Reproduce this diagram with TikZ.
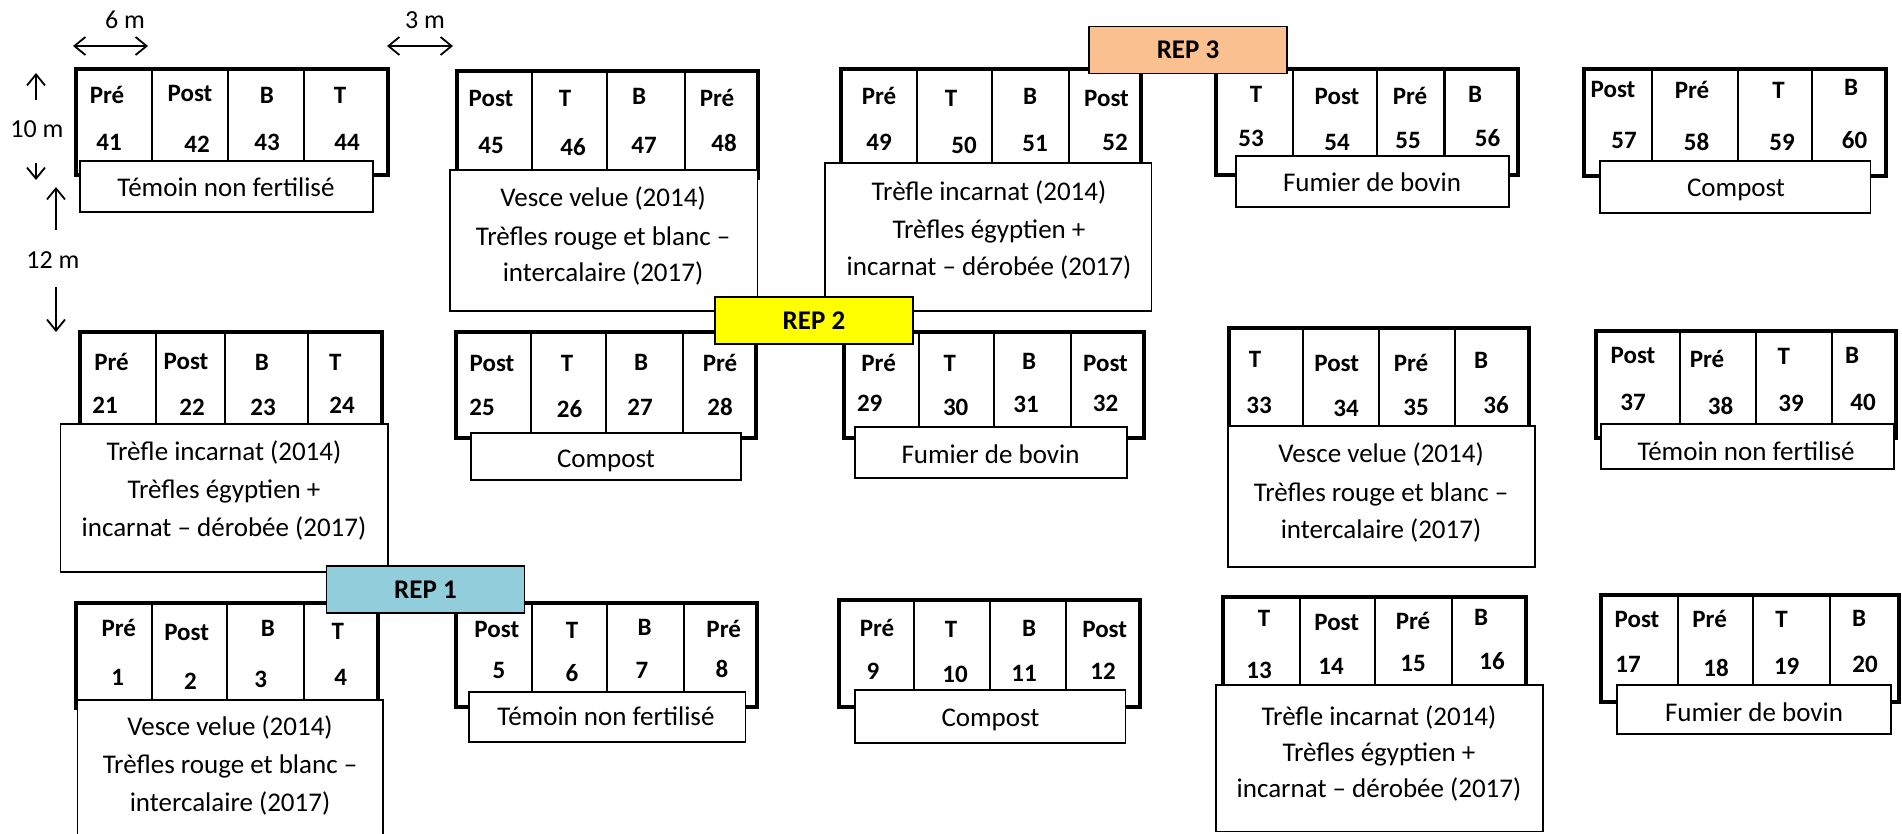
\documentclass[tikz,border=0pt]{standalone}
\usepackage{fontspec}
\setmainfont{Carlito}
\usetikzlibrary{arrows.meta}
\tikzset{
  plotbox/.style={line width=4pt, line join=miter},
  divider/.style={line width=2pt},
  labelbox/.style={draw, fill=white, line width=1.6pt},
  hd/.style={font=\fontsize{25}{30}\selectfont\bfseries, anchor=base, inner sep=0pt},
  lt/.style={font=\fontsize{27}{32}\selectfont, anchor=base, inner sep=0pt},
  dimtext/.style={font=\fontsize{26}{30}\selectfont, anchor=center, inner sep=0pt},
  rep/.style={draw, line width=1.6pt, font=\fontsize{27}{30}\selectfont\bfseries, inner sep=0pt, minimum width=198pt, minimum height=47pt},
  dimboth/.style={line width=1.8pt, {Straight Barb[length=11pt,width=18pt]}-{Straight Barb[length=11pt,width=18pt]}},
  dimone/.style={line width=1.8pt, -{Straight Barb[length=11pt,width=18pt]}},
}
\definecolor{rep1c}{HTML}{92CDDC}
\definecolor{rep2c}{HTML}{FFFF00}
\definecolor{rep3c}{HTML}{FAC090}
\newcommand\blk[7]{%
  \draw[plotbox] (#1,#2) rectangle (#3,#4);
  \draw[divider] (#5,#2) -- (#5,#4) (#6,#2) -- (#6,#4) (#7,#2) -- (#7,#4);}
\newcommand\lbox[4]{\draw[labelbox] (#1,#2) rectangle (#3,#4);}
\newcommand\hdt[4]{\node[hd] (#1) at ({#2},{#3+8}) {#4};}
\newcommand\ltt[4]{\node[lt] (#1) at ({#2},{#3+8}) {#4};}
\begin{document}
\begin{tikzpicture}[x=1pt,y=-1pt]
\useasboundingbox (0,0) rectangle (1902,833);
\clip (0,0) rectangle (1902,833);
\fill[white] (0,0) rectangle (1902,833);

% ---- plot blocks ----
\blk{76}{69}{388}{175}{152}{228}{304}
\blk{457}{71}{757.5}{178}{532}{607}{685}
\blk{841}{69}{1141}{175}{916.5}{991.6}{1068.7}
\blk{1216}{69}{1518}{175}{1293}{1376.6}{1444.7}
\draw[line width=3.5pt] (1444.7,69) -- (1444.7,160);
\blk{1584}{69}{1886}{176}{1652}{1738}{1811.7}

\blk{80}{332}{381.5}{438}{156}{225}{308}
\blk{455.6}{332}{756}{438}{531}{606}{682.5}
\blk{843.8}{332}{1144}{438}{919}{994}{1071}
\blk{1229}{328}{1529}{434}{1303}{1379}{1455}
\blk{1596}{331}{1896}{438}{1680}{1755.6}{1832}

\blk{76}{603}{378}{708}{151.7}{226.9}{304.4}
\blk{455.6}{603}{757}{707}{531.7}{607}{684.4}
\blk{838.6}{600}{1140}{707}{914}{990}{1066}
\blk{1223}{597}{1526}{703}{1299.6}{1375}{1451.6}
\blk{1601}{595}{1899}{702}{1677.7}{1753}{1829.7}

% ---- label boxes ----
\lbox{80}{161}{373}{212}
\lbox{450}{170}{757.5}{311}
\lbox{825}{163}{1151.6}{311}
\lbox{1236}{156}{1509}{207}
\lbox{1600}{161}{1870.6}{213}

\lbox{60.6}{424}{387.8}{572}
\lbox{471}{433}{740.7}{480}
\lbox{855}{427}{1127}{478}
\lbox{1228}{426}{1535}{567}
\lbox{1601}{424}{1894}{469}

\lbox{77.6}{700}{383}{850}
\lbox{468.7}{692}{745.5}{742}
\lbox{855}{690}{1125.5}{743}
\lbox{1216}{685}{1543}{831.5}
\lbox{1617}{685}{1891}{734}

% ---- label texts ----
\ltt{l41}{226}{188}{Témoin non fertilisé}
\ltt{l45a}{603}{198}{Vesce velue (2014)}
\ltt{l45b}{603}{237}{Trèfles rouge et blanc –}
\ltt{l45c}{603}{273}{intercalaire (2017)}
\ltt{l49a}{989}{192}{Trèfle incarnat (2014)}
\ltt{l49b}{989}{230}{Trèfles égyptien +}
\ltt{l49c}{989}{267}{incarnat – dérobée (2017)}
\ltt{l53}{1372}{183}{Fumier de bovin}
\ltt{l57}{1736}{188}{Compost}

\ltt{l21a}{224}{452}{Trèfle incarnat (2014)}
\ltt{l21b}{224}{490}{Trèfles égyptien +}
\ltt{l21c}{224}{528}{incarnat – dérobée (2017)}
\ltt{l25}{606}{459}{Compost}
\ltt{l29}{990.5}{455}{Fumier de bovin}
\ltt{l33a}{1381}{454}{Vesce velue (2014)}
\ltt{l33b}{1381}{493}{Trèfles rouge et blanc –}
\ltt{l33c}{1381}{530}{intercalaire (2017)}
\ltt{l37}{1746}{452}{Témoin non fertilisé}

\ltt{l1a}{230}{727}{Vesce velue (2014)}
\ltt{l1b}{230}{765}{Trèfles rouge et blanc –}
\ltt{l1c}{230}{803}{intercalaire (2017)}
\ltt{l5}{606}{717}{Témoin non fertilisé}
\ltt{l9}{990.5}{718}{Compost}
\ltt{l13a}{1379}{717}{Trèfle incarnat (2014)}
\ltt{l13b}{1379}{753}{Trèfles égyptien +}
\ltt{l13c}{1379}{789}{incarnat – dérobée (2017)}
\ltt{l17}{1754}{713}{Fumier de bovin}

% ---- cell headers and numbers ----
\hdt{h41}{107}{95}{Pré}   \hdt{n41}{109}{142}{41}
\hdt{h42}{190}{93}{Post}  \hdt{n42}{197}{144}{42}
\hdt{h43}{267}{95}{B}     \hdt{n43}{267}{142}{43}
\hdt{h44}{340}{95}{T}     \hdt{n44}{347}{142}{44}

\hdt{h45}{491}{98}{Post}  \hdt{n45}{491}{145}{45}
\hdt{h46}{565}{98}{T}     \hdt{n46}{573}{147}{46}
\hdt{h47}{639}{96}{B}     \hdt{n47}{644}{145}{47}
\hdt{h48}{717}{98}{Pré}   \hdt{n48}{724}{143}{48}

\hdt{h49}{879}{96}{Pré}   \hdt{n49}{879}{142}{49}
\hdt{h50}{951}{98}{T}     \hdt{n50}{964}{145}{50}
\hdt{h51}{1030}{96}{B}    \hdt{n51}{1035}{143}{51}
\hdt{h52}{1106.5}{98}{Post} \hdt{n52}{1115}{142}{52}

\hdt{h53}{1256}{94}{T}    \hdt{n53}{1251}{138}{53}
\hdt{h54}{1337}{96}{Post} \hdt{n54}{1337}{142}{54}
\hdt{h55}{1410}{96}{Pré}  \hdt{n55}{1408}{140}{55}
\hdt{h56}{1475}{94}{B}    \hdt{n56}{1487.5}{138}{56}

\hdt{h57}{1613}{89}{Post} \hdt{n57}{1624}{140}{57}
\hdt{h58}{1692}{90}{Pré}  \hdt{n58}{1696.6}{142}{58}
\hdt{h59}{1778.5}{90}{T}  \hdt{n59}{1782}{142}{59}
\hdt{h60}{1851}{87}{B}    \hdt{n60}{1854.5}{140}{60}

\hdt{h21}{111.5}{362}{Pré} \hdt{n21}{105}{405}{21}
\hdt{h22}{186}{361}{Post}  \hdt{n22}{192}{407}{22}
\hdt{h23}{262}{362}{B}     \hdt{n23}{263}{407}{23}
\hdt{h24}{335.4}{362}{T}   \hdt{n24}{342}{405}{24}

\hdt{h25}{492}{363}{Post}  \hdt{n25}{482}{407}{25}
\hdt{h26}{567}{363}{T}     \hdt{n26}{569.6}{409}{26}
\hdt{h27}{641}{362}{B}     \hdt{n27}{640}{407}{27}
\hdt{h28}{720}{363}{Pré}   \hdt{n28}{720}{407}{28}

\hdt{h29}{878.6}{363}{Pré} \hdt{n29}{869.7}{403}{29}
\hdt{h30}{949.8}{363}{T}   \hdt{n30}{955.7}{407}{30}
\hdt{h31}{1029}{361}{B}    \hdt{n31}{1026}{404}{31}
\hdt{h32}{1105.5}{363}{Post} \hdt{n32}{1105.5}{403}{32}

\hdt{h33}{1255}{359}{T}    \hdt{n33}{1259}{405}{33}
\hdt{h34}{1336.7}{363}{Post} \hdt{n34}{1346}{408}{34}
\hdt{h35}{1411}{363}{Pré}  \hdt{n35}{1416}{407}{35}
\hdt{h36}{1481}{360}{B}    \hdt{n36}{1496}{405}{36}

\hdt{h37}{1633}{355}{Post} \hdt{n37}{1633}{402}{37}
\hdt{h38}{1707}{359}{Pré}  \hdt{n38}{1720.6}{406}{38}
\hdt{h39}{1783.7}{356}{T}  \hdt{n39}{1791}{403}{39}
\hdt{h40}{1852}{355}{B}    \hdt{n40}{1863}{402}{40}

\hdt{h1}{118.8}{628}{Pré}  \hdt{n1}{117.8}{677}{1}
\hdt{h2}{186.6}{632}{Post} \hdt{n2}{190.5}{681}{2}
\hdt{h3}{268}{628}{B}      \hdt{n3}{260.8}{679}{3}
\hdt{h4}{337.9}{631}{T}    \hdt{n4}{340.8}{677}{4}

\hdt{h5}{496.8}{629}{Post} \hdt{n5}{499}{670}{5}
\hdt{h6}{572}{630}{T}      \hdt{n6}{572}{673}{6}
\hdt{h7}{644.7}{627}{B}    \hdt{n7}{642}{670}{7}
\hdt{h8}{723.7}{629}{Pré}  \hdt{n8}{722}{669}{8}

\hdt{h9}{877}{628}{Pré}    \hdt{n9}{873}{671}{9}
\hdt{h10}{951}{629}{T}     \hdt{n10}{955}{674}{10}
\hdt{h11}{1029}{628}{B}    \hdt{n11}{1024}{673}{11}
\hdt{h12}{1104.7}{629}{Post} \hdt{n12}{1103}{671}{12}

\hdt{h13}{1264}{618}{T}    \hdt{n13}{1259}{670}{13}
\hdt{h14}{1336.7}{622}{Post} \hdt{n14}{1331}{666}{14}
\hdt{h15}{1413}{621}{Pré}  \hdt{n15}{1413}{663}{15}
\hdt{h16}{1481}{617}{B}    \hdt{n16}{1492}{661}{16}

\hdt{h17}{1637}{619}{Post} \hdt{n17}{1628}{664}{17}
\hdt{h18}{1709.6}{619}{Pré} \hdt{n18}{1716}{668}{18}
\hdt{h19}{1781.5}{619}{T}  \hdt{n19}{1786.7}{666}{19}
\hdt{h20}{1859}{618}{B}    \hdt{n20}{1865}{664}{20}

% ---- replicate tags ----
\node[rep, fill=rep1c] (rep1) at (425.5,589.5) {REP 1};
\node[rep, fill=rep2c] (rep2) at (814,320.5) {REP 2};
\node[rep, fill=rep3c] (rep3) at (1188,50) {REP 3};

% ---- dimensions ----
\node[dimtext] (d6) at (125,20) {6 m};
\coordinate (a6l) at (73,46); \coordinate (a6r) at (148,46);
\draw[dimboth] (a6l) -- (a6r);
\node[dimtext] (d3) at (425,20) {3 m};
\coordinate (a3l) at (387,46); \coordinate (a3r) at (453,46);
\draw[dimboth] (a3l) -- (a3r);
\node[dimtext] (d10) at (37,129) {10 m};
\coordinate (u10a) at (36,100); \coordinate (u10b) at (36,73);
\draw[dimone] (u10a) -- (u10b);
\coordinate (w10a) at (36,163); \coordinate (w10b) at (36,180);
\draw[dimone] (w10a) -- (w10b);
\node[dimtext] (d12) at (53,260) {12 m};
\coordinate (u12a) at (56,230); \coordinate (u12b) at (56,187);
\draw[dimone] (u12a) -- (u12b);
\coordinate (w12a) at (56,287); \coordinate (w12b) at (56,332);
\draw[dimone] (w12a) -- (w12b);
\end{tikzpicture}
\end{document}
